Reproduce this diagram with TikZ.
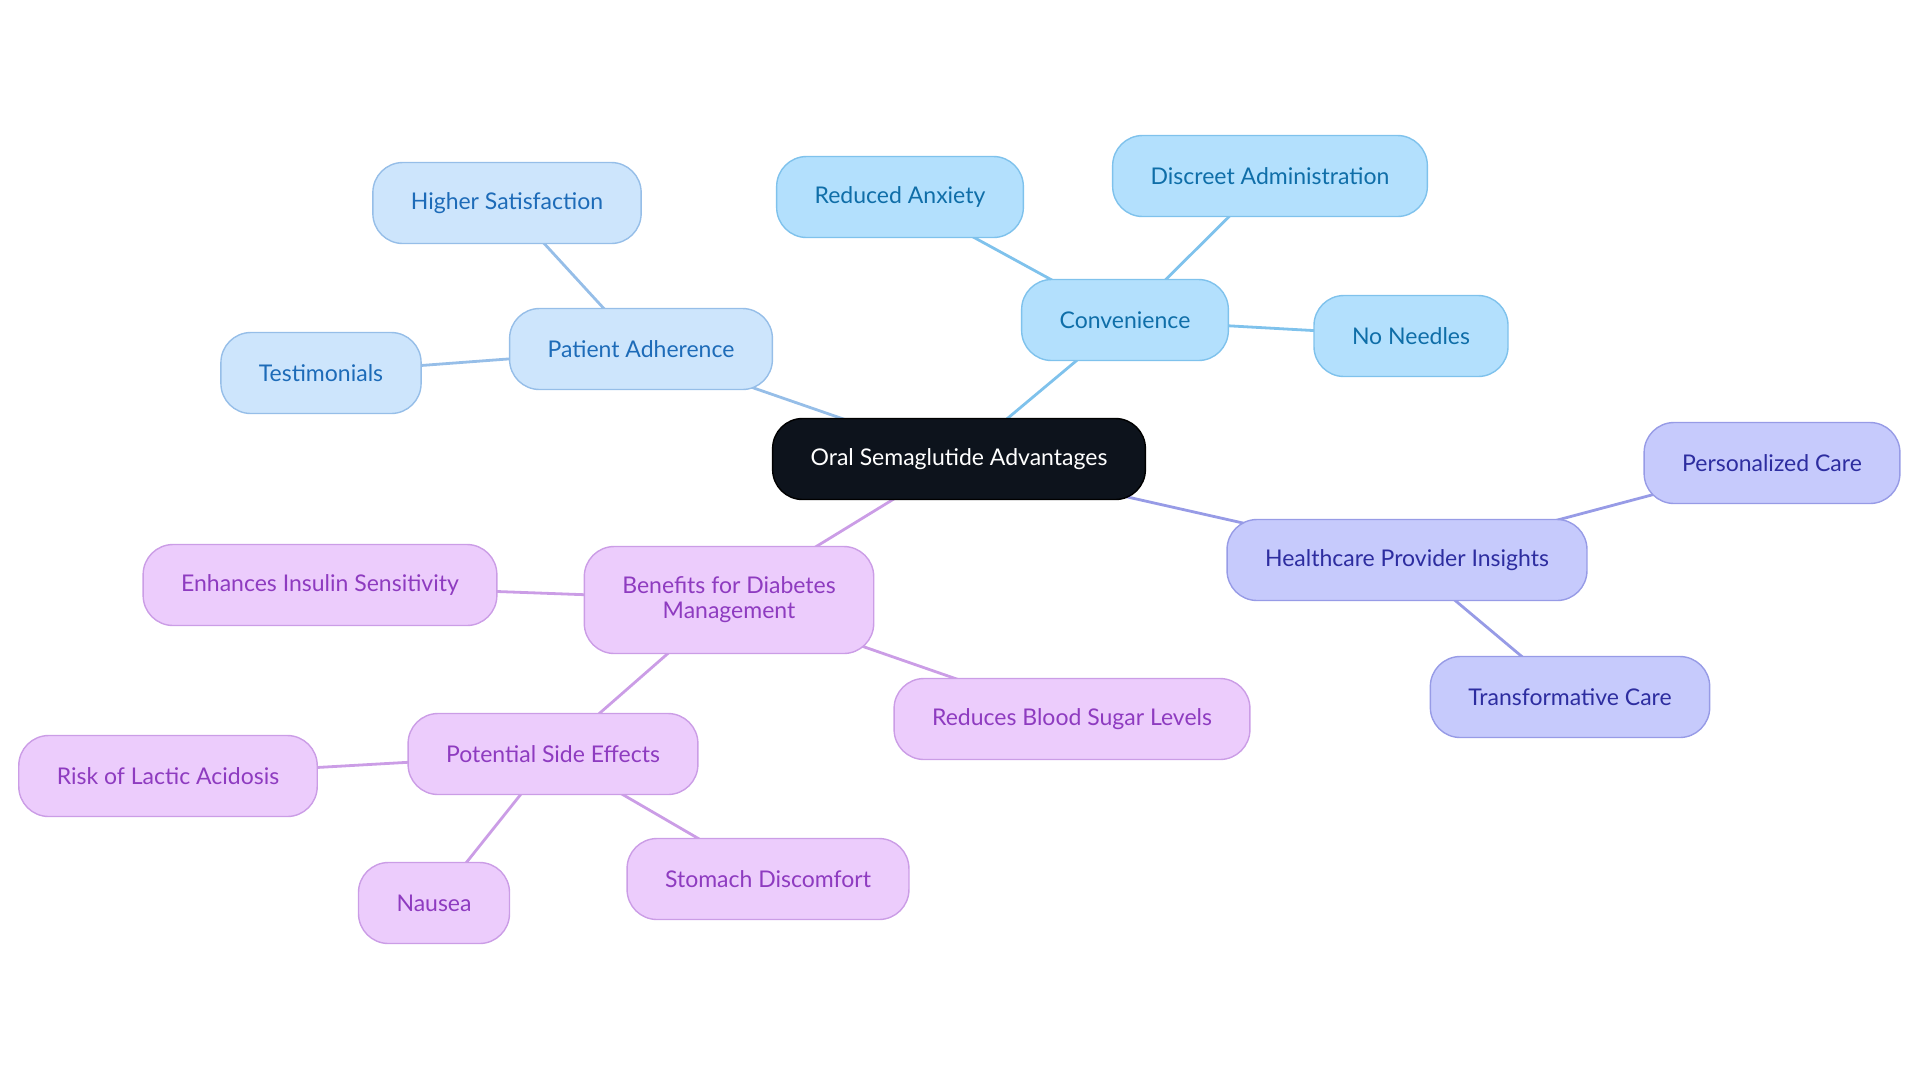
\documentclass[tikz,border=0pt]{standalone}
\usepackage{fontspec}
\setmainfont{Lato}
\usetikzlibrary{backgrounds}
\definecolor{rootfill}{HTML}{0D131C}
\definecolor{adhfill}{HTML}{CDE5FC}
\definecolor{adhline}{HTML}{96BEE8}
\definecolor{adhtext}{HTML}{1D6BB8}
\definecolor{convfill}{HTML}{B3E0FD}
\definecolor{convline}{HTML}{7FC2EC}
\definecolor{convtext}{HTML}{0F6EA8}
\definecolor{provfill}{HTML}{C6CAFC}
\definecolor{provline}{HTML}{979BE6}
\definecolor{provtext}{HTML}{2D2DA0}
\definecolor{benfill}{HTML}{ECCCFC}
\definecolor{benline}{HTML}{CB9DE6}
\definecolor{bentext}{HTML}{8E3BC0}
\begin{document}
\begin{tikzpicture}[x=0.5pt,y=-0.5pt,
    box/.style={rectangle,rounded corners=15pt,minimum height=40.5pt,inner xsep=19pt,
      line width=0.7pt,font=\fontsize{11.5}{12.5}\selectfont,align=center},
    root/.style={box,fill=rootfill,draw=black,text=white},
    adh/.style={box,fill=adhfill,draw=adhline,text=adhtext},
    conv/.style={box,fill=convfill,draw=convline,text=convtext},
    prov/.style={box,fill=provfill,draw=provline,text=provtext},
    ben/.style={box,fill=benfill,draw=benline,text=bentext},
    link/.style={line width=1.4pt}]
  \useasboundingbox (0,0) rectangle (1920,1083);
  \node[root] (oral) at (959,459) {Oral Semaglutide Advantages};
  \node[adh] (adherence) at (641,349) {Patient Adherence};
  \node[adh] (satisfaction) at (507,203) {Higher Satisfaction};
  \node[adh] (testimonials) at (321,373) {Testimonials};
  \node[conv] (convenience) at (1125,320) {Convenience};
  \node[conv] (anxiety) at (900,197) {Reduced Anxiety};
  \node[conv] (discreet) at (1270,176) {Discreet Administration};
  \node[conv] (needles) at (1411,336) {No Needles};
  \node[prov] (provider) at (1407,560) {Healthcare Provider Insights};
  \node[prov] (personal) at (1772,463) {Personalized Care};
  \node[prov] (transform) at (1570,697) {Transformative Care};
  \node[ben,minimum height=53.5pt] (benefits) at (729,600) {Benefits for Diabetes\\Management};
  \node[ben] (insulin) at (320,585) {Enhances Insulin Sensitivity};
  \node[ben] (sugar) at (1072,719) {Reduces Blood Sugar Levels};
  \node[ben] (side) at (553,754) {Potential Side Effects};
  \node[ben] (lactic) at (168,776) {Risk of Lactic Acidosis};
  \node[ben] (nausea) at (434,903) {Nausea};
  \node[ben] (stomach) at (768,879) {Stomach Discomfort};
  \begin{scope}[on background layer]
    \draw[link,adhline] (oral.center) -- (adherence.center);
    \draw[link,adhline] (adherence.center) -- (satisfaction.center);
    \draw[link,adhline] (adherence.center) -- (testimonials.center);
    \draw[link,convline] (oral.center) -- (convenience.center);
    \draw[link,convline] (convenience.center) -- (anxiety.center);
    \draw[link,convline] (convenience.center) -- (discreet.center);
    \draw[link,convline] (convenience.center) -- (needles.center);
    \draw[link,provline] (oral.center) -- (provider.center);
    \draw[link,provline] (provider.center) -- (personal.center);
    \draw[link,provline] (provider.center) -- (transform.center);
    \draw[link,benline] (oral.center) -- (benefits.center);
    \draw[link,benline] (benefits.center) -- (insulin.center);
    \draw[link,benline] (benefits.center) -- (sugar.center);
    \draw[link,benline] (benefits.center) -- (side.center);
    \draw[link,benline] (side.center) -- (lactic.center);
    \draw[link,benline] (side.center) -- (nausea.center);
    \draw[link,benline] (side.center) -- (stomach.center);
  \end{scope}
\end{tikzpicture}
\end{document}
